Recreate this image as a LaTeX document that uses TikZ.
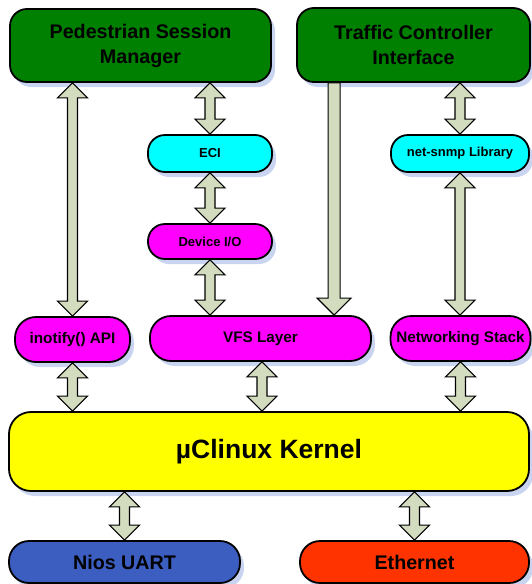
\documentclass[tikz,border=0pt]{standalone}
\usepackage{fontspec}
\setmainfont{Liberation Sans}
\usetikzlibrary{shadows,calc}
\definecolor{boxgreen}{RGB}{0,128,0}
\definecolor{boxcyan}{RGB}{0,255,255}
\definecolor{boxmag}{RGB}{255,0,255}
\definecolor{boxyel}{RGB}{255,255,0}
\definecolor{boxblue}{RGB}{59,94,192}
\definecolor{boxred}{RGB}{255,51,0}
\definecolor{shadowblue}{RGB}{200,212,240}
\definecolor{arrfill}{RGB}{212,220,192}
\tikzset{
  box/.style={draw=black, line width=1.8pt, rectangle, align=center, inner sep=0pt,
    font=\bfseries,
    drop shadow={shadow xshift=4pt, shadow yshift=-5pt, fill=shadowblue, opacity=1}},
  bigbox/.style={box, rounded corners=17pt, fill=boxgreen, font=\bfseries\fontsize{19.7}{25}\selectfont},
  pillsmall/.style={box, rounded corners=17pt, font=\bfseries\fontsize{13}{15}\selectfont},
  pillmid/.style={box, rounded corners=21pt, fill=boxmag, font=\bfseries\fontsize{15.3}{18}\selectfont},
  pillbot/.style={box, rounded corners=20pt, font=\bfseries\fontsize{19.7}{23}\selectfont},
  dbl/.style={draw=black, line width=1.1pt, fill=arrfill, line join=miter,
    to path={let \p1=(\tikztostart), \p2=(\tikztotarget) in
      -- (\x1+15pt,\y1-15pt) -- (\x1+5pt,\y1-15pt) -- (\x1+5pt,\y2+15pt)
      -- (\x1+15pt,\y2+15pt) -- (\x1,\y2) -- (\x1-15pt,\y2+15pt)
      -- (\x1-5pt,\y2+15pt) -- (\x1-5pt,\y1-15pt) -- (\x1-15pt,\y1-15pt) -- cycle}},
  sgl/.style={draw=black, line width=1.1pt, fill=arrfill, line join=miter,
    to path={let \p1=(\tikztostart), \p2=(\tikztotarget) in
      -- (\x1+6pt,\y1) -- (\x1+6pt,\y2+17pt) -- (\x1+17pt,\y2+17pt) -- (\x1,\y2)
      -- (\x1-17pt,\y2+17pt) -- (\x1-6pt,\y2+17pt) -- (\x1-6pt,\y1) -- cycle}}
}
\begin{document}
\begin{tikzpicture}[x=1pt,y=-1pt]
\useasboundingbox (0,0) rectangle (532,584);
\node[bigbox, minimum width=261pt, minimum height=73pt] (psm) at (140.5,45.5) {Pedestrian Session\\Manager};
\node[bigbox, minimum width=233pt, minimum height=74pt] (tci) at (413.5,45) {Traffic Controller\\Interface};
\node[pillsmall, fill=boxcyan, minimum width=124pt, minimum height=37pt] (eci) at (210,153.5) {ECI};
\node[pillsmall, fill=boxmag, minimum width=124pt, minimum height=35pt] (dev) at (210,241.5) {Device I/O};
\node[pillsmall, fill=boxcyan, minimum width=138pt, minimum height=37pt] (snmp) at (460,153.5) {net-snmp Library};
\node[pillmid, minimum width=115pt, minimum height=45pt] (ino) at (72.5,339.5) {inotify() API};
\node[pillmid, minimum width=221pt, minimum height=45pt] (vfs) at (260.5,338.5) {VFS Layer};
\node[pillmid, minimum width=140pt, minimum height=45pt] (net) at (460.5,338.5) {Networking Stack};
\node[box, rounded corners=22pt, fill=boxyel, minimum width=520pt, minimum height=79pt,
  font=\bfseries\fontsize{26.5}{30}\selectfont] (kern) at (269,451.5) {µClinux Kernel};
\node[pillbot, fill=boxblue, minimum width=231pt, minimum height=42pt] (nios) at (124.5,562) {Nios UART};
\node[pillbot, fill=boxred, minimum width=229pt, minimum height=42pt] (eth) at (414.5,562) {Ethernet};
% connectors
\path[dbl] (psm.south -| ino.north) to (ino.north);
\path[dbl] (psm.south -| eci.north) to (eci.north);
\path[dbl] (eci.south) to (dev.north);
\path[dbl] (dev.south) to (dev.south |- vfs.north);
\coordinate (tcix) at ([xshift=38pt]tci.south west);
\path[sgl] (tcix) to (tcix |- vfs.north);
\path[dbl] (tci.south -| snmp.north) to (snmp.north);
\path[dbl] (snmp.south) to (snmp.south |- net.north);
\path[dbl] (ino.south) to (ino.south |- kern.north);
\path[dbl] ([xshift=1.5pt]vfs.south) to ([xshift=1.5pt]vfs.south |- kern.north);
\path[dbl] (net.south) to (net.south |- kern.north);
\path[dbl] (kern.south -| nios.north) to (nios.north);
\path[dbl] (kern.south -| eth.north) to (eth.north);
\end{tikzpicture}
\end{document}
